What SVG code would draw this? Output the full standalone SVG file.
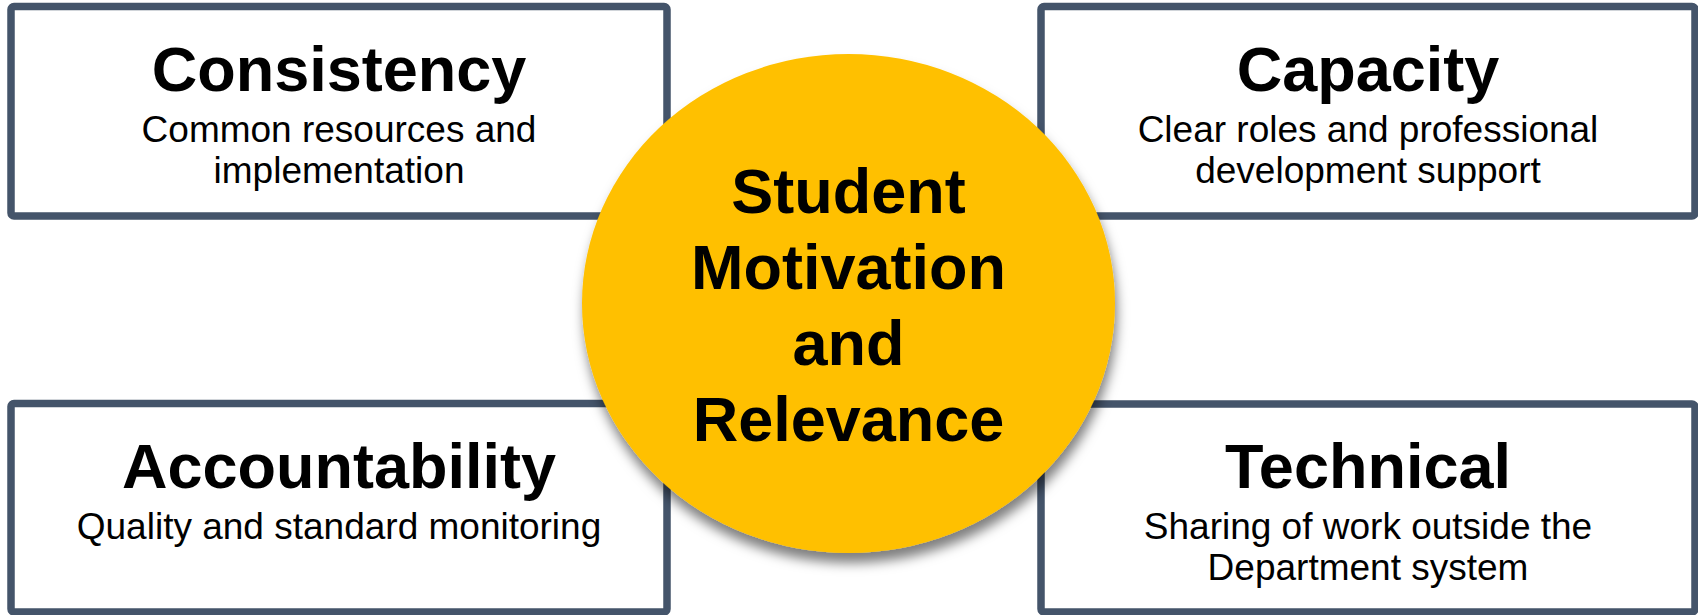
<svg xmlns="http://www.w3.org/2000/svg" width="1698" height="615" viewBox="0 0 1698 615">
<defs>
<filter id="shadow" x="-20%" y="-20%" width="140%" height="140%">
<feDropShadow dx="2" dy="10" stdDeviation="6" flood-color="#000" flood-opacity="0.5"/>
</filter>
<style>
.box{fill:#fff;stroke:#44546A;stroke-width:7.5}
.t{font-family:"Liberation Sans",Arial,sans-serif;font-weight:bold;font-size:63px;fill:#000;text-anchor:middle}
.s{font-family:"Liberation Sans",Arial,sans-serif;font-size:37px;fill:#000;text-anchor:middle}
.c{font-family:"Liberation Sans",Arial,sans-serif;font-weight:bold;font-size:63px;fill:#000;text-anchor:middle}
</style>
</defs>
<rect width="1698" height="615" fill="#fff"/>
<g id="consistency">
<rect class="box" x="11" y="6.5" width="656" height="209.5" rx="3"/>
<text class="t" x="339" y="91">Consistency</text>
<text class="s" x="339" y="142">Common resources and</text>
<text class="s" x="339" y="183">implementation</text>
</g>
<g id="capacity">
<rect class="box" x="1041" y="6.5" width="654" height="209.5" rx="3"/>
<text class="t" x="1368" y="91">Capacity</text>
<text class="s" x="1368" y="142">Clear roles and professional</text>
<text class="s" x="1368" y="183">development support</text>
</g>
<g id="accountability">
<rect class="box" x="11" y="403.5" width="656" height="208.5" rx="3"/>
<text class="t" x="339" y="488">Accountability</text>
<text class="s" x="339" y="539">Quality and standard monitoring</text>
</g>
<g id="technical">
<rect class="box" x="1041" y="404" width="654" height="208" rx="3"/>
<text class="t" x="1368" y="488">Technical</text>
<text class="s" x="1368" y="539">Sharing of work outside the</text>
<text class="s" x="1368" y="580">Department system</text>
</g>
<g id="connectors"></g>
<g id="center">
<ellipse cx="848.5" cy="303.5" rx="266.5" ry="249.5" fill="#FFC000" filter="url(#shadow)"/>
<text class="c" x="848.5" y="213">Student</text>
<text class="c" x="848.5" y="289">Motivation</text>
<text class="c" x="848.5" y="365">and</text>
<text class="c" x="848.5" y="441">Relevance</text>
</g>
</svg>
